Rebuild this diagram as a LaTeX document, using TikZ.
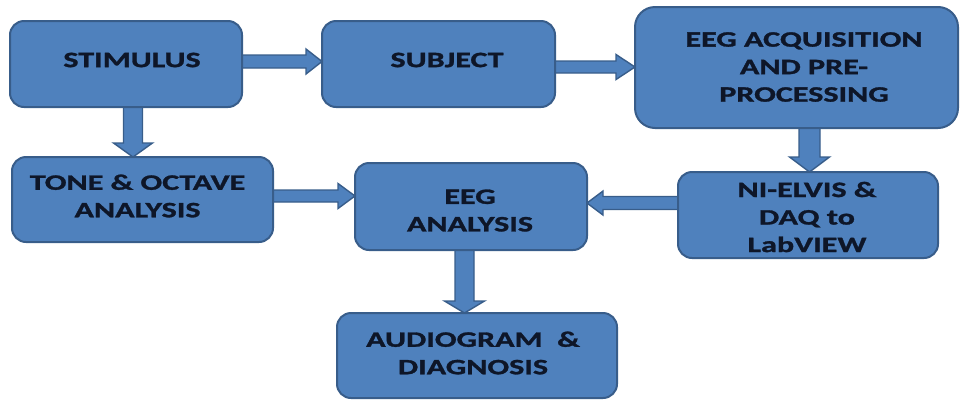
\documentclass[tikz,border=0pt]{standalone}
\usepackage{fontspec}
\setmainfont{Carlito}[FakeStretch=1.46, BoldFeatures={FakeBold=1.3}]
\usetikzlibrary{calc,backgrounds}
\definecolor{boxfill}{HTML}{4F81BD}
\definecolor{boxline}{HTML}{385D8A}
\definecolor{txt}{HTML}{0E1628}
\tikzset{
  blockbox/.style={draw=boxline, fill=boxfill, line width=2pt, rounded corners=14pt, inner sep=0pt, outer sep=0pt},
  lbl/.style={text=txt, font=\fontsize{22}{27.5}\selectfont\bfseries, align=center, inner sep=0pt},
  arrowst/.style={draw=boxline, fill=boxfill, line width=1.4pt, line join=miter}
}
% horizontal block arrow: tail, tip, shaft half width, head half width, signed head length
\newcommand{\HArrow}[5]{\filldraw[arrowst] let \p1=(#1), \p2=(#2) in
  ({\x1},{\y1+#3}) -- ({\x2-(#5)},{\y1+#3}) -- ({\x2-(#5)},{\y1+#4}) -- ({\x2},{\y1}) --
  ({\x2-(#5)},{\y1-#4}) -- ({\x2-(#5)},{\y1-#3}) -- ({\x1},{\y1-#3}) -- cycle;}
% vertical (downward) block arrow
\newcommand{\VArrow}[5]{\filldraw[arrowst] let \p1=(#1), \p2=(#2) in
  ({\x1+#3},{\y1}) -- ({\x1+#3},{\y2+(#5)}) -- ({\x1+#4},{\y2+(#5)}) -- ({\x1},{\y2}) --
  ({\x1-#4},{\y2+(#5)}) -- ({\x1-#3},{\y2+(#5)}) -- ({\x1-#3},{\y1}) -- cycle;}
\begin{document}
\begin{tikzpicture}[x=1pt,y=-1pt]
\useasboundingbox (0,0) rectangle (960,400);
% boxes
\node[blockbox, minimum width=232pt, minimum height=86pt] (stim) at (126,64) {};
\node[blockbox, minimum width=233pt, minimum height=86pt] (subj) at (438.5,64) {};
\node[blockbox, minimum width=323pt, minimum height=121pt, rounded corners=20pt] (acq) at (796.5,67.5) {};
\node[blockbox, minimum width=260pt, minimum height=86pt] (ni) at (808,215) {};
\node[blockbox, minimum width=261pt, minimum height=85pt] (tone) at (142.5,199.5) {};
\node[blockbox, minimum width=232pt, minimum height=87pt] (eegan) at (471,206.5) {};
\node[blockbox, minimum width=280pt, minimum height=85pt] (aud) at (477,355.5) {};
% labels
\node[lbl] (stimT) at (132,60) {STIMULUS};
\node[lbl] (subjT) at (447,60) {SUBJECT};
\node[lbl] (acqT) at (804,67) {EEG ACQUISITION\\AND PRE-\\PROCESSING};
\node[lbl] (niT) at (807,217) {NI-ELVIS \&\\DAQ to\\LabVIEW};
\node[lbl] (toneT) at (137.5,196) {TONE \& OCTAVE\\ANALYSIS};
\node[lbl] (eeganT) at (470,210.5) {EEG\\ANALYSIS};
\node[lbl] (audT) at (473,353) {AUDIOGRAM\ \ \&\\DIAGNOSIS};
% connectors
\begin{scope}[on background layer]
\HArrow{stim.east |- 0,61.5}{subj.west |- 0,61.5}{6.5pt}{12.5pt}{16pt}
\HArrow{subj.east |- 0,67}{acq.west |- 0,67}{6pt}{12.5pt}{19pt}
\HArrow{ni.west |- 0,203}{eegan.east |- 0,203}{6.5pt}{12pt}{-16pt}
\HArrow{tone.east |- 0,196}{eegan.west |- 0,196}{6pt}{12.5pt}{17pt}
\VArrow{133,0 |- stim.south}{133,0 |- tone.north}{9.5pt}{19.5pt}{14pt}
\VArrow{809.5,0 |- acq.south}{809.5,0 |- ni.north}{10.5pt}{20pt}{15pt}
\VArrow{464.5,0 |- eegan.south}{464.5,0 |- aud.north}{9.5pt}{20pt}{12pt}
\end{scope}
\end{tikzpicture}
\end{document}
